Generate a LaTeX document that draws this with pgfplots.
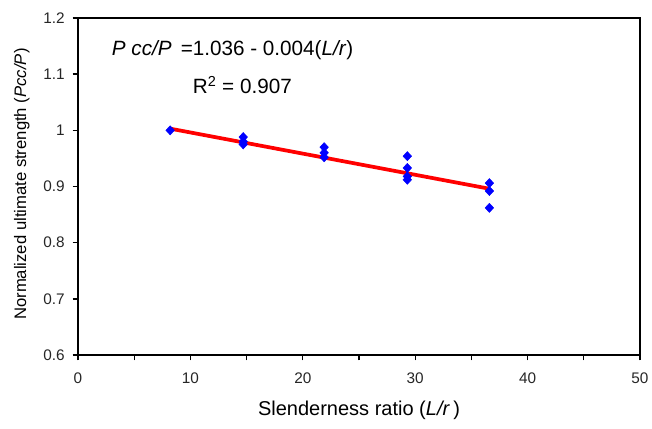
\documentclass[border=0pt]{standalone}
\usepackage{pgfplots}
\pgfplotsset{compat=1.18}
\usepackage{fontspec}
\setmainfont{Liberation Sans}
\begin{document}
\begin{tikzpicture}
\begin{axis}[
    width=421.5pt, height=252.75pt,
    scale only axis,
    xmin=0, xmax=50, ymin=0.6, ymax=1.2,
    xtick={0,10,...,50},
    minor xtick={5,15,...,45},
    ytick={0.6,0.7,...,1.2},
    tick align=outside,
    xtick pos=bottom, ytick pos=left,
    major tick length=4pt, minor tick length=4pt,
    axis line style={line width=1pt},
    every tick/.style={black, line width=1pt},
    tick label style={font=\fontsize{11.5}{13}\selectfont, text=black!85},
    xticklabel style={yshift=-6pt},
    yticklabel style={xshift=-2.5pt},
    /pgf/number format/assume math mode=true,
    xlabel={Slenderness ratio (\textit{L/r}\,)},
    ylabel={Normalized ultimate strength (\textit{Pcc/P})},
    xlabel style={font=\fontsize{15}{17}\selectfont, at={(axis description cs:0.5,-0.163)}, anchor=center},
    ylabel style={font=\fontsize{12.5}{14}\selectfont, at={(axis description cs:-0.1,0.507)}, anchor=center, rotate=0},
]
\addplot[only marks, mark=diamond*, mark size=3.4pt, mark options={xscale=1.25}, color=blue]
coordinates {
(8.2,1.000)
(14.7,0.988) (14.7,0.980) (14.7,0.975)
(21.9,0.970) (21.9,0.960) (21.9,0.952)
(29.3,0.954) (29.3,0.933) (29.3,0.918) (29.3,0.912)
(36.6,0.906) (36.6,0.892) (36.6,0.862)
};
\addplot[red, line width=2.8pt] coordinates {(8.2,1.003) (36.6,0.896)};
\node[anchor=west, font=\fontsize{15.5}{17}\selectfont] at (axis cs:2.6,1.143) {\textit{P cc/P} \,=1.036 - 0.004(\textit{L/r})};
\node[anchor=west, font=\fontsize{15.5}{17}\selectfont] at (axis cs:9.8,1.081) {R\textsuperscript{2} = 0.907};
\end{axis}
\pgfresetboundingbox
\path ([xshift=-58.5pt,yshift=-54.75pt]current axis.south west) rectangle ([xshift=9pt,yshift=13.5pt]current axis.north east);
\end{tikzpicture}
\end{document}
